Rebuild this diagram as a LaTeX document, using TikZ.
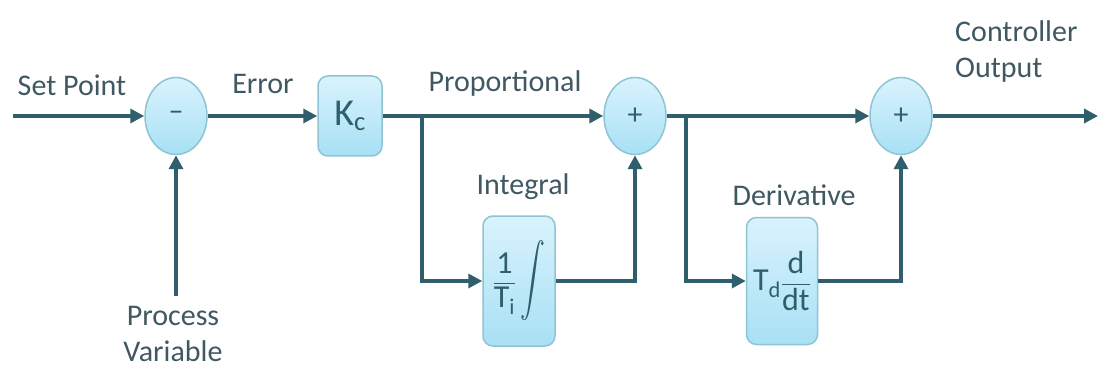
\documentclass[tikz,border=0pt]{standalone}
\usepackage{fontspec}
\setmainfont{Carlito}
\usepackage{amsmath}
\usepackage{graphicx}
\usetikzlibrary{arrows.meta,shapes.geometric}

\definecolor{flowline}{HTML}{2F5E6C}
\definecolor{labeltext}{HTML}{3F5862}
\definecolor{boxtop}{HTML}{D9F3FC}
\definecolor{boxbottom}{HTML}{A8E0F5}
\definecolor{boxedge}{HTML}{8EC4D4}

\tikzset{
    sumpoint/.style={ellipse, draw=boxedge, line width=1.5pt, top color=boxtop, bottom color=boxbottom,
        minimum width=62pt, minimum height=77pt, inner sep=0pt, text=flowline, font=\fontsize{30}{30}\selectfont},
    gainbox/.style={rounded corners=10pt, draw=boxedge, line width=1.5pt, top color=boxtop, bottom color=boxbottom,
        inner sep=0pt, text=flowline, font=\fontsize{32}{36}\selectfont},
    lbl/.style={text=labeltext, font=\fontsize{30}{36}\selectfont, inner sep=0pt},
    signal/.style={draw=flowline, line width=4.5pt, ->}
}

\begin{document}
\begin{tikzpicture}[x=1pt, y=-1pt, >={Triangle[length=14pt,width=14pt]}]
    \useasboundingbox (0,0) rectangle (1099,374);

    % Summierstellen
    \node[sumpoint] (sum1) at (176,116) {--};
    \node[sumpoint] (sum2) at (635,116) {+};
    \node[sumpoint] (sum3) at (901,116) {+};

    % Bloecke
    \node[gainbox, minimum width=64pt, minimum height=80pt, font=\fontsize{38}{40}\selectfont] (kc) at (350,116)
        {K\textsubscript{c}};
    \node[gainbox, minimum width=72pt, minimum height=130pt] (integ) at (519,281)
        {$\dfrac{\text{1}}{\text{T}_{\text{i}}}\,\scalebox{1}[1.45]{$\displaystyle\int$}$};
    \node[gainbox, minimum width=71pt, minimum height=127pt] (deriv) at (782,281)
        {$\text{T}_{\text{d}}\dfrac{\text{d}}{\text{dt}}$};

    % Hilfspunkte
    \coordinate (start) at (13,116);
    \coordinate (out) at (1098,116);
    \coordinate (pv) at (176,296);
    \coordinate (b1) at (422,116);
    \coordinate (b2) at (686,116);

    % Signalpfade
    \draw[signal] (start) -- (sum1);
    \draw[signal] (sum1) -- (kc);
    \draw[signal] (kc) -- (sum2);
    \draw[signal] (sum2) -- (sum3);
    \draw[signal] (sum3) -- (out);
    \draw[signal] (pv) -- (sum1);
    \draw[signal] (b1) |- (integ);
    \draw[signal] (integ) -| (sum2);
    \draw[signal] (b2) |- (deriv);
    \draw[signal] (deriv) -| (sum3);

    % Beschriftungen
    \node[lbl] (setpt) at (72,85) {Set Point};
    \node[lbl] (err) at (263,84) {Error};
    \node[lbl] (prop) at (505,84) {Proportional};
    \node[lbl] (intlbl) at (523,187) {Integral};
    \node[lbl] (derlbl) at (794,195) {Derivative};
    \node[lbl, align=left, anchor=west] (cout) at (955,52) {Controller\\Output};
    \node[lbl, align=center] (pvlbl) at (173,334) {Process\\Variable};
\end{tikzpicture}
\end{document}
